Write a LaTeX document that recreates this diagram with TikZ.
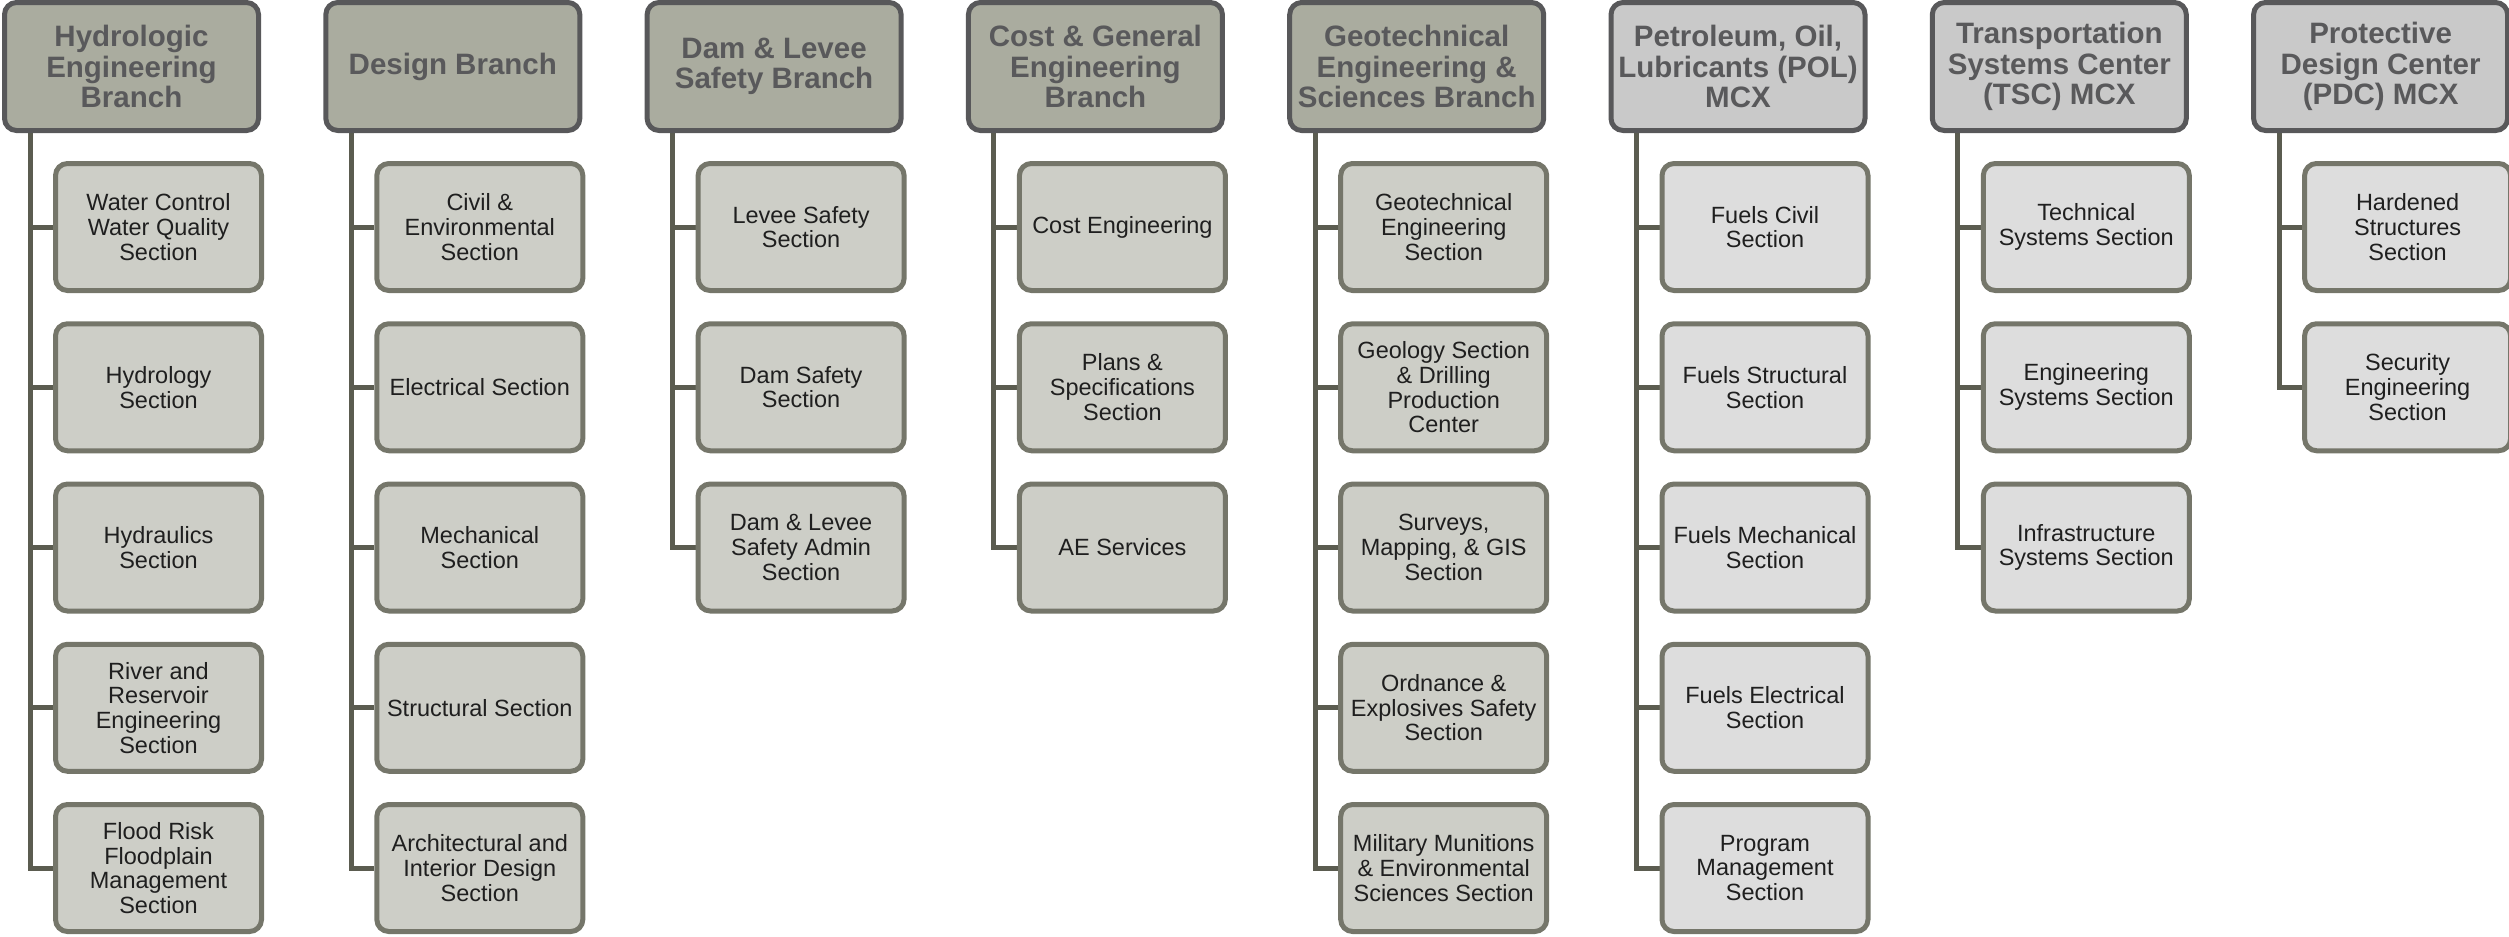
\documentclass[tikz,border=0pt]{standalone}
\usepackage{fontspec}
\setmainfont{Liberation Sans}
\usetikzlibrary{backgrounds}
\definecolor{headA}{HTML}{AAAC9F}
\definecolor{headB}{HTML}{C9C9C9}
\definecolor{headline}{HTML}{58585A}
\definecolor{headtext}{HTML}{59595B}
\definecolor{secA}{HTML}{CDCEC7}
\definecolor{secB}{HTML}{DDDDDD}
\definecolor{secline}{HTML}{75766A}
\definecolor{connc}{HTML}{5B5C50}
\definecolor{sectext}{HTML}{1F1F1F}
\tikzset{
  hd/.style={draw=headline, line width=5pt, rounded corners=12pt, minimum width=254pt, minimum height=128pt, inner sep=0pt, align=center, font=\fontsize{29.5}{30.5}\selectfont\bfseries, text=headtext},
  hdA/.style={hd, fill=headA},
  hdB/.style={hd, fill=headB},
  sec/.style={draw=secline, line width=5pt, rounded corners=12pt, minimum width=206pt, minimum height=127pt, inner sep=0pt, align=center, font=\fontsize{23.5}{24.7}\selectfont, text=sectext},
  secA/.style={sec, fill=secA},
  secB/.style={sec, fill=secB},
  conn/.style={draw=connc, line width=5pt}
}
\begin{document}
\begin{tikzpicture}[x=1pt,y=-1pt]
\useasboundingbox (0,0) rectangle (2509,937);
\clip (0,0) rectangle (2509,937);
% heads
\node[hdA] (h1) at (131.5,66.5) {Hydrologic\\Engineering\\Branch};
\node[hdA] (h2) at (452.8,66.5) {Design Branch};
\node[hdA] (h3) at (774.1,66.5) {Dam \& Levee\\Safety Branch};
\node[hdA] (h4) at (1095.4,66.5) {Cost \& General\\Engineering\\Branch};
\node[hdA] (h5) at (1416.7,66.5) {Geotechnical\\Engineering \&\\Sciences Branch};
\node[hdB] (h6) at (1738,66.5) {Petroleum, Oil,\\Lubricants (POL)\\MCX};
\node[hdB] (h7) at (2059.3,66.5) {Transportation\\Systems Center\\(TSC) MCX};
\node[hdB] (h8) at (2380.6,66.5) {Protective\\Design Center\\(PDC) MCX};
% column 1
\node[secA] (a1) at (158.5,227) {Water Control\\Water Quality\\Section};
\node[secA] (a2) at (158.5,387.25) {Hydrology\\Section};
\node[secA] (a3) at (158.5,547.5) {Hydraulics\\Section};
\node[secA] (a4) at (158.5,707.75) {River and\\Reservoir\\Engineering\\Section};
\node[secA] (a5) at (158.5,868) {Flood Risk\\Floodplain\\Management\\Section};
% column 2
\node[secA] (b1) at (479.8,227) {Civil \&\\Environmental\\Section};
\node[secA] (b2) at (479.8,387.25) {Electrical Section};
\node[secA] (b3) at (479.8,547.5) {Mechanical\\Section};
\node[secA] (b4) at (479.8,707.75) {Structural Section};
\node[secA] (b5) at (479.8,868) {Architectural and\\Interior Design\\Section};
% column 3
\node[secA] (c1) at (801.1,227) {Levee Safety\\Section};
\node[secA] (c2) at (801.1,387.25) {Dam Safety\\Section};
\node[secA] (c3) at (801.1,547.5) {Dam \& Levee\\Safety Admin\\Section};
% column 4
\node[secA] (d1) at (1122.4,227) {Cost Engineering};
\node[secA] (d2) at (1122.4,387.25) {Plans \&\\Specifications\\Section};
\node[secA] (d3) at (1122.4,547.5) {AE Services};
% column 5
\node[secA] (e1) at (1443.7,227) {Geotechnical\\Engineering\\Section};
\node[secA] (e2) at (1443.7,387.25) {Geology Section\\\& Drilling\\Production\\Center};
\node[secA] (e3) at (1443.7,547.5) {Surveys,\\Mapping, \& GIS\\Section};
\node[secA] (e4) at (1443.7,707.75) {Ordnance \&\\Explosives Safety\\Section};
\node[secA] (e5) at (1443.7,868) {Military Munitions\\\& Environmental\\Sciences Section};
% column 6
\node[secB] (f1) at (1765,227) {Fuels Civil\\Section};
\node[secB] (f2) at (1765,387.25) {Fuels Structural\\Section};
\node[secB] (f3) at (1765,547.5) {Fuels Mechanical\\Section};
\node[secB] (f4) at (1765,707.75) {Fuels Electrical\\Section};
\node[secB] (f5) at (1765,868) {Program\\Management\\Section};
% column 7
\node[secB] (g1) at (2086.3,227) {Technical\\Systems Section};
\node[secB] (g2) at (2086.3,387.25) {Engineering\\Systems Section};
\node[secB] (g3) at (2086.3,547.5) {Infrastructure\\Systems Section};
% column 8
\node[secB] (k1) at (2407.6,227) {Hardened\\Structures\\Section};
\node[secB] (k2) at (2407.6,387.25) {Security\\Engineering\\Section};
% spines
\coordinate (s1) at (30,130);
\coordinate (s2) at (351.3,130);
\coordinate (s3) at (672.6,130);
\coordinate (s4) at (993.9,130);
\coordinate (s5) at (1315.2,130);
\coordinate (s6) at (1636.5,130);
\coordinate (s7) at (1957.8,130);
\coordinate (s8) at (2279.1,130);
\begin{scope}[on background layer]
\draw[conn] (s1) |- (a5.west);
\foreach \n in {a1,a2,a3,a4} \draw[conn] (\n.west) -- (\n.west -| s1);
\draw[conn] (s2) |- (b5.west);
\foreach \n in {b1,b2,b3,b4} \draw[conn] (\n.west) -- (\n.west -| s2);
\draw[conn] (s3) |- (c3.west);
\foreach \n in {c1,c2} \draw[conn] (\n.west) -- (\n.west -| s3);
\draw[conn] (s4) |- (d3.west);
\foreach \n in {d1,d2} \draw[conn] (\n.west) -- (\n.west -| s4);
\draw[conn] (s5) |- (e5.west);
\foreach \n in {e1,e2,e3,e4} \draw[conn] (\n.west) -- (\n.west -| s5);
\draw[conn] (s6) |- (f5.west);
\foreach \n in {f1,f2,f3,f4} \draw[conn] (\n.west) -- (\n.west -| s6);
\draw[conn] (s7) |- (g3.west);
\foreach \n in {g1,g2} \draw[conn] (\n.west) -- (\n.west -| s7);
\draw[conn] (s8) |- (k2.west);
\draw[conn] (k1.west) -- (k1.west -| s8);
\end{scope}
\end{tikzpicture}
\end{document}
